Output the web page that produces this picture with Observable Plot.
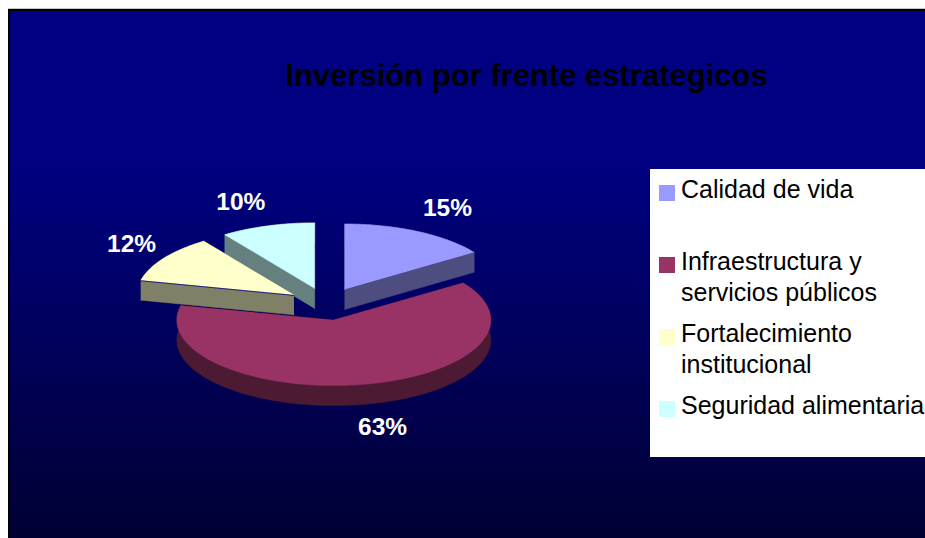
<!DOCTYPE html>
<html lang="es">
<head>
<meta charset="utf-8">
<script src="https://cdn.jsdelivr.net/npm/d3@7"></script>
<script src="https://cdn.jsdelivr.net/npm/@observablehq/plot@0.6"></script>
<style>html,body{margin:0;padding:0;background:#fff;overflow:hidden}</style>
</head>
<body>
<script>
// --- data
const categories = ["Calidad de vida", "Infraestructura y\nservicios públicos", "Fortalecimiento\ninstitucional", "Seguridad alimentaria"];
const shares = [15.4, 63.2, 11.7, 9.7];
const topColors = ["#9999ff", "#993366", "#ffffcc", "#ccffff"];
const sideColors = ["#4d4d80", "#4d1a33", "#808066", "#668080"];
const title = "Inversión por frente estrategicos";

// --- layout of the tilted pie, in pixels of the 925x538 picture
const W = 925, H = 538;
const centre = {x: 326, y: 303.5}, rx = 157, ry = 65.5, depth = 20, explode = 0.25;
const labelReach = [[1.657, 1.648], [1.907, 1.92], [1.498, 1.625], [1.82, 1.624]];
const legendRowY = [185, 257, 329, 401];
const drawOrder = [3, 2, 0, 1];

const tau = 2 * Math.PI, total = d3.sum(shares);
const ends = d3.cumsum(shares).map(v => v / total * tau);
const slices = shares.map((v, i) => {
  const a0 = i ? ends[i - 1] : 0, a1 = ends[i], mid = (a0 + a1) / 2;
  return {i, a0, a1, mid,
    ox: centre.x + explode * rx * Math.sin(mid),
    oy: centre.y - explode * ry * Math.cos(mid)};
});
const rim = s => d3.range(0, 61).map(k => {
  const a = s.a0 + (s.a1 - s.a0) * k / 60;
  return {x: s.ox + rx * Math.sin(a), y: s.oy - ry * Math.cos(a)};
});
const topFace = s => {
  const r = rim(s);
  return [{x: s.ox, y: s.oy}, ...r];
};
const down = p => ({x: p.x, y: p.y + depth});
const sideFaces = s => {
  const r = rim(s), apex = {x: s.ox, y: s.oy}, out = [];
  const quad = (pts, f) => pts.forEach(p => out.push({...p, f}));
  quad([apex, r[0], down(r[0]), down(apex)], "start");
  quad([apex, r[60], down(r[60]), down(apex)], "end");
  quad([...r, ...r.map(down).reverse()], "rim");
  return out;
};

const defs = () => {
  const d = d3.create("svg:defs");
  const g = d.append("linearGradient").attr("id", "bg").attr("x1", 0).attr("x2", 0).attr("y1", 0).attr("y2", 1);
  g.append("stop").attr("offset", "0%").attr("stop-color", "#000080");
  g.append("stop").attr("offset", "30%").attr("stop-color", "#000080");
  g.append("stop").attr("offset", "100%").attr("stop-color", "#000033");
  return d.node();
};

const pieMarks = drawOrder.flatMap(i => {
  const s = slices[i];
  const r = rim(s);
  const marks = [
    Plot.line(sideFaces(s), {x: "x", y: "y", z: "f", fill: sideColors[i], stroke: sideColors[i], strokeWidth: 0.5}),
    Plot.line(topFace(s), {x: "x", y: "y", fill: topColors[i], stroke: topColors[i], strokeWidth: 0.5})
  ];
  if (i === 2) marks.push(Plot.line([{x: s.ox, y: s.oy + 0.6}, {x: r[0].x, y: r[0].y + 0.6}], {x: "x", y: "y", stroke: "#000080", strokeWidth: 0.8}));
  return marks;
});

const chart = Plot.plot({
  width: W, height: H, margin: 0,
  x: {domain: [0, W], range: [0, W], axis: null},
  y: {domain: [0, H], range: [0, H], axis: null},
  style: {fontFamily: "'Liberation Sans', Arial, sans-serif", background: "#fff"},
  marks: [
    defs,
    Plot.rect([{x1: 8, x2: W, y1: 8, y2: 9}], {x1: "x1", x2: "x2", y1: "y1", y2: "y2", fill: "#c8c8c8"}),
    Plot.rect([{x1: 8, x2: W, y1: 9, y2: H}], {x1: "x1", x2: "x2", y1: "y1", y2: "y2", fill: "#000"}),
    Plot.rect([{x1: 10, x2: W, y1: 11, y2: H}], {x1: "x1", x2: "x2", y1: "y1", y2: "y2", fill: "url(#bg)"}),
    Plot.text([title], {x: () => 526, y: () => 76, text: d => d, fontSize: 31, fontWeight: "bold", fill: "#000", textAnchor: "middle"}),
    ...pieMarks,
    Plot.text(slices, {
      x: s => centre.x + labelReach[s.i][0] * rx * Math.sin(s.mid),
      y: s => centre.y - labelReach[s.i][1] * ry * Math.cos(s.mid),
      text: s => `${Math.round(shares[s.i])}%`, fontSize: 24.5, fontWeight: "bold", fill: "#fff"
    }),
    Plot.rect([{x1: 650, x2: W, y1: 169, y2: 457}], {x1: "x1", x2: "x2", y1: "y1", y2: "y2", fill: "#fff"}),
    Plot.rect(categories, {x1: () => 659, x2: () => 675, y1: (d, i) => legendRowY[i], y2: (d, i) => legendRowY[i] + 16, fill: (d, i) => topColors[i]}),
    Plot.text(categories, {x: () => 680.5, y: (d, i) => legendRowY[i] - 9, text: d => d, fontSize: 25, lineHeight: 1.22, lineAnchor: "top", textAnchor: "start", fill: "#000"})
  ]
});
document.body.append(chart);
</script>
</body>
</html>
